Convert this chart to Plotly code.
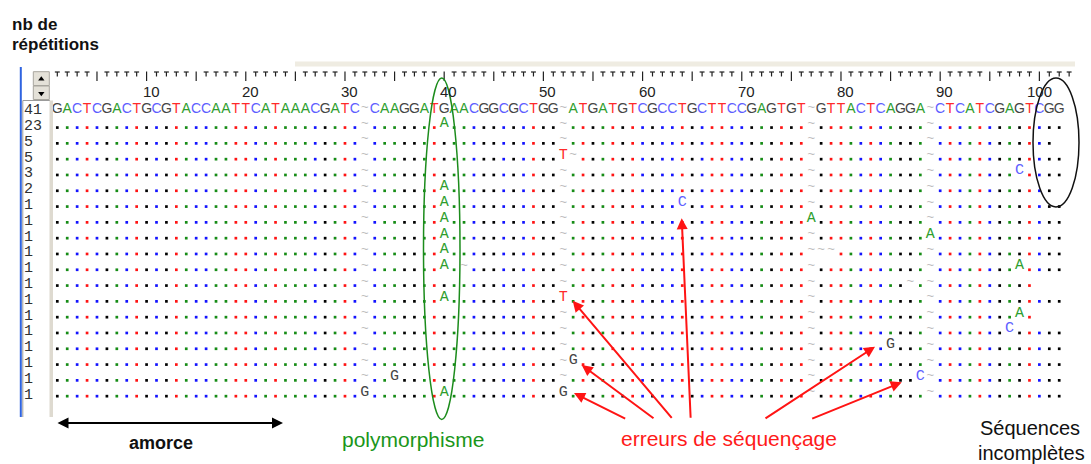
import plotly.graph_objects as go

W, H = 1091, 464

# ---------------- data ----------------
reference = ("GACTCGACTGCGTACCAATTCATAAACGATC~CAAGGATGAACGGCGCTGG~"
             "ATGATGTCGCCTGCTTCCGAGTGT~GTTACTCAGGA~CTCATCGAGTCGG")
counts = [41, 23, 5, 5, 3, 2, 1, 1, 1, 1, 1, 1, 1, 1, 1, 1, 1, 1, 1]
row_lengths = [102, 102, 101, 102, 102, 101, 102, 102, 102, 102,
               102, 99, 102, 99, 102, 102, 102, 102, 102]

# differences from the reference: row, column, base ("~" = gap)
diff_rows = [1, 3, 3, 4, 5, 6, 6, 7, 7, 8, 8, 9, 9, 9, 10, 10, 10, 11,
             12, 12, 13, 14, 15, 16, 17, 17, 18, 18, 18]
diff_cols = [40, 52, 53, 98, 40, 40, 64, 40, 77, 40, 89, 40, 78, 79, 40, 42, 98, 87,
             40, 52, 98, 97, 85, 53, 35, 88, 32, 40, 52]
diff_bases = ["A", "T", "~", "C", "A", "A", "C", "A", "A", "A", "A", "A", "~", "~",
              "A", "~", "A", "~", "A", "T", "A", "C", "G", "G", "G", "C", "G", "A", "G"]

ruler_labels = [10, 20, 30, 40, 50, 60, 70, 80, 90, 100]
ruler_columns = 103

# ---------------- geometry ----------------
COL_PX = 9.92
X0_PX = 57.3
ROW_PX = 15.8
Y0_PX = 107.5

x_range = [1 - X0_PX / COL_PX, 1 + (W - X0_PX) / COL_PX]
y_range = [(H - Y0_PX) / ROW_PX, -Y0_PX / ROW_PX]

BASE_DOT = {"G": "#000000", "A": "#168c16", "C": "#1414ff", "T": "#ff1414"}
BASE_TXT = {"G": "#454545", "A": "#2e9e2e", "C": "#5e5eff", "T": "#ff2a2a"}
GAP_CLR = "#bdbdbd"

diffs = {(r, c): b for r, c, b in zip(diff_rows, diff_cols, diff_bases)}

dot_x = {b: [] for b in "GACT"}
dot_y = {b: [] for b in "GACT"}
ref_x, ref_y, ref_t, ref_c = [], [], [], []
mut_x, mut_y, mut_t, mut_c = [], [], [], []
gap_x, gap_y = [], []

for c, b in enumerate(reference, start=1):
    if b == "~":
        gap_x.append(c); gap_y.append(0)
    else:
        ref_x.append(c); ref_y.append(0.12); ref_t.append(b); ref_c.append(BASE_TXT[b])

for i in range(1, len(counts)):
    for c in range(1, row_lengths[i] + 1):
        rb = reference[c - 1]
        if (i, c) in diffs:
            b = diffs[(i, c)]
            if b == "~":
                gap_x.append(c); gap_y.append(i)
            else:
                mut_x.append(c); mut_y.append(i); mut_t.append(b); mut_c.append(BASE_TXT[b])
        elif rb == "~":
            gap_x.append(c); gap_y.append(i)
        else:
            dot_x[rb].append(c); dot_y[rb].append(i + 0.27)

fig = go.Figure()

# dots
for b in "GACT":
    fig.add_trace(go.Scatter(
        x=dot_x[b], y=dot_y[b], mode="markers", xaxis="x", yaxis="y",
        marker=dict(symbol="square", size=2.7, color=BASE_DOT[b], line=dict(width=0)),
        hoverinfo="skip", showlegend=False))

# gaps
fig.add_trace(go.Scatter(
    x=gap_x, y=gap_y, mode="text", text=["~"] * len(gap_x), xaxis="x", yaxis="y",
    textfont=dict(family="Liberation Sans", size=13, color=GAP_CLR),
    hoverinfo="skip", showlegend=False))

# reference sequence
fig.add_trace(go.Scatter(
    x=ref_x, y=ref_y, mode="text", text=ref_t, xaxis="x", yaxis="y",
    textfont=dict(family="Liberation Sans", size=14, color=ref_c),
    hoverinfo="skip", showlegend=False))

# mutations
fig.add_trace(go.Scatter(
    x=mut_x, y=mut_y, mode="text", text=mut_t, xaxis="x", yaxis="y",
    textfont=dict(family="Liberation Mono", size=15, color=mut_c),
    hoverinfo="skip", showlegend=False))

# ruler ticks (columns on x, pixels on y2)
maj_x, maj_y, min_x, min_y, cap_x = [], [], [], [], []
for c in range(1, ruler_columns + 1):
    if c % 5 == 0:
        maj_x += [c, c, None]; maj_y += [71.5, 81, None]
    else:
        min_x += [c, c, None]; min_y += [72, 76.5, None]
        cap_x.append(c)
fig.add_trace(go.Scatter(x=maj_x, y=maj_y, mode="lines", xaxis="x", yaxis="y2",
                         line=dict(color="#202020", width=1.2), hoverinfo="skip", showlegend=False))
fig.add_trace(go.Scatter(x=min_x, y=min_y, mode="lines", xaxis="x", yaxis="y2",
                         line=dict(color="#202020", width=1.2), hoverinfo="skip", showlegend=False))
fig.add_trace(go.Scatter(x=cap_x, y=[72] * len(cap_x), mode="markers", xaxis="x", yaxis="y2",
                         marker=dict(symbol="line-ew", size=3.5, line=dict(color="#202020", width=1.2)),
                         hoverinfo="skip", showlegend=False))

# scroll button triangles (pixel space)
fig.add_trace(go.Scatter(x=[41.3, 41.3], y=[79, 93.5], mode="markers", xaxis="x2", yaxis="y2",
                         marker=dict(symbol=["triangle-up", "triangle-down"], size=5.5, color="#000000",
                                     line=dict(width=0)),
                         hoverinfo="skip", showlegend=False))

shapes = []
# top beige band
shapes.append(dict(type="rect", xref="x2", yref="y2", x0=295, x1=1075, y0=61.5, y1=66.5,
                   fillcolor="#efece2", line=dict(width=0), layer="below"))
# blue window border
shapes.append(dict(type="line", xref="x2", yref="y2", x0=20.8, x1=20.8, y0=67, y1=417,
                   line=dict(color="#2f64e0", width=2)))
# label box
shapes.append(dict(type="line", xref="x2", yref="y2", x0=22.8, x1=22.8, y0=100.5, y1=417,
                   line=dict(color="#9a9a9a", width=1)))
shapes.append(dict(type="line", xref="x2", yref="y2", x0=22.8, x1=50, y0=100.5, y1=100.5,
                   line=dict(color="#9a9a9a", width=1)))
shapes.append(dict(type="rect", xref="x2", yref="y2", x0=49.5, x1=53, y0=100.5, y1=417,
                   fillcolor="#dedad0", line=dict(width=0)))
# scroll buttons (below the triangles)
for y0, y1 in [(71.7, 85.5), (86, 99.5)]:
    shapes.append(dict(type="rect", xref="x2", yref="y2", x0=33.3, x1=49.3, y0=y0, y1=y1,
                       fillcolor="#e4e1d8", line=dict(color="#a8a69e", width=1), layer="below"))
# green polymorphism ellipse
shapes.append(dict(type="circle", xref="x2", yref="y2", x0=423.5, x1=460, y0=78, y1=419.5,
                   line=dict(color="#1c8c1c", width=1.5)))
# black ellipse, incomplete sequences
shapes.append(dict(type="circle", xref="x2", yref="y2", x0=1033, x1=1079, y0=78, y1=207,
                   line=dict(color="#111111", width=1.5)))

annotations = []
# ruler labels
for v in ruler_labels:
    annotations.append(dict(x=v, y=91, xref="x", yref="y2", text=str(v), showarrow=False,
                            xanchor="right", yanchor="middle", xshift=15,
                            font=dict(family="Liberation Sans", size=15, color="#222222")))
# row counts
for i, n in enumerate(counts):
    annotations.append(dict(x=23, y=i + 0.2, xref="x2", yref="y", text=str(n), showarrow=False,
                            xanchor="left", yanchor="middle", borderpad=0,
                            font=dict(family="Liberation Mono", size=15, color="#303030")))

# titles / labels
annotations.append(dict(x=10, y=24.5, xref="x2", yref="y2", text="<b>nb de</b>", showarrow=False,
                        xanchor="left", yanchor="middle",
                        font=dict(family="Liberation Sans", size=17, color="#111111")))
annotations.append(dict(x=10, y=44.5, xref="x2", yref="y2", text="<b>répétitions</b>", showarrow=False,
                        xanchor="left", yanchor="middle",
                        font=dict(family="Liberation Sans", size=17, color="#111111")))
annotations.append(dict(x=160.5, y=443, xref="x2", yref="y2", text="<b>amorce</b>", showarrow=False,
                        xanchor="center", yanchor="middle",
                        font=dict(family="Liberation Sans", size=18, color="#111111")))
annotations.append(dict(x=412.5, y=439, xref="x2", yref="y2", text="polymorphisme", showarrow=False,
                        xanchor="center", yanchor="middle",
                        font=dict(family="Liberation Sans", size=21, color="#1a961a")))
annotations.append(dict(x=728.5, y=438, xref="x2", yref="y2", text="erreurs de séquençage",
                        showarrow=False, xanchor="center", yanchor="middle",
                        font=dict(family="Liberation Sans", size=21, color="#ff1a1a")))
annotations.append(dict(x=1030, y=428, xref="x2", yref="y2", text="Séquences", showarrow=False,
                        xanchor="center", yanchor="middle",
                        font=dict(family="Liberation Sans", size=20, color="#111111")))
annotations.append(dict(x=1031, y=453, xref="x2", yref="y2", text="incomplètes", showarrow=False,
                        xanchor="center", yanchor="middle",
                        font=dict(family="Liberation Sans", size=20, color="#111111")))

# amorce double arrow
annotations.append(dict(x=283, y=423, xref="x2", yref="y2", ax=56, ay=423, axref="x2", ayref="y2",
                        text="", showarrow=True, arrowhead=2, startarrowhead=2, arrowside="end+start",
                        arrowsize=1.1, startarrowsize=1.1, arrowwidth=2, arrowcolor="#000000",
                        standoff=0, startstandoff=0))

# red arrows to sequencing errors
heads = [(574, 393), (581.7, 365), (572.7, 300.7), (681.7, 218.3), (875, 346.7), (901.7, 382.3)]
tails = [(626.7, 419.3), (655, 419.3), (673, 419.3), (690.7, 419.3), (764, 419.3), (810.7, 419.3)]
for (hx, hy), (tx, ty) in zip(heads, tails):
    annotations.append(dict(x=hx, y=hy, xref="x2", yref="y2", ax=tx, ay=ty, axref="x2", ayref="y2",
                            text="", showarrow=True, arrowhead=2, arrowsize=1.1, arrowwidth=2,
                            arrowcolor="#ff1414", standoff=0))

fig.update_layout(
    width=W, height=H,
    margin=dict(l=0, r=0, t=0, b=0, pad=0),
    paper_bgcolor="white", plot_bgcolor="rgba(0,0,0,0)",
    xaxis=dict(range=x_range, visible=False, domain=[0, 1], fixedrange=True),
    yaxis=dict(range=y_range, visible=False, domain=[0, 1], fixedrange=True),
    xaxis2=dict(range=[0, W], visible=False, overlaying="x", fixedrange=True),
    yaxis2=dict(range=[H, 0], visible=False, overlaying="y", fixedrange=True),
    shapes=shapes,
    annotations=annotations,
    showlegend=False,
)

fig.write_html("out.html", config={"displayModeBar": False},
               post_script="document.body.style.margin='0';")
